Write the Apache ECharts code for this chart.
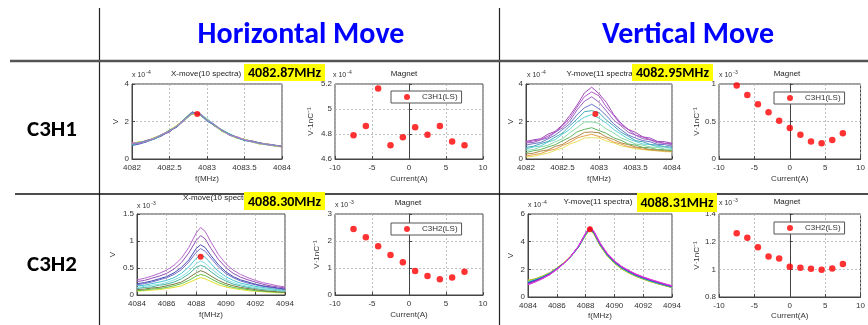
<!DOCTYPE html>
<html>
<head>
<meta charset="utf-8">
<script src="https://cdn.jsdelivr.net/npm/echarts@6/dist/echarts.min.js"></script>
<style>
  html, body { margin: 0; padding: 0; background: #fff; }
  #chart { width: 868px; height: 325px; }
</style>
</head>
<body>
<div id="chart"></div>
<script>
// column / row headings
var colTitles = ['Horizontal Move', 'Vertical Move'];
var rowTitles = ['C3H1', 'C3H2'];
var freqTags = ['4082.87MHz', '4082.95MHz', '4088.30MHz', '4088.31MHz'];
var panelTitles = ['X-move(10 spectra)', 'Magnet', 'Y-move(11 spectra)', 'Magnet',
                   'X-move(10 spectra)', 'Magnet', 'Y-move(11 spectra)', 'Magnet'];
var exponents = ['-4', '-4', '-4', '-3', '-3', '-3', '-4', '-3'];

// frequency axes (MHz)
var freqRow1 = [4082, 4082.1, 4082.2, 4082.3, 4082.4, 4082.5, 4082.6, 4082.7, 4082.8, 4082.9, 4083,
                4083.1, 4083.2, 4083.3, 4083.4, 4083.5, 4083.6, 4083.7, 4083.8, 4083.9, 4084];
var freqRow2 = [4084, 4084.5, 4085, 4085.5, 4086, 4086.5, 4087, 4087.5, 4088, 4088.3, 4088.6,
                4089, 4089.5, 4090, 4090.5, 4091, 4091.5, 4092, 4092.5, 4093, 4093.5, 4094];

// C3H1 horizontal move, 10 spectra (x1e-4 V)
var spectraA = [
    [0.85,0.92,0.98,1.15,1.30,1.55,1.80,2.12,2.40,2.38,2.05,1.78,1.55,1.28,1.12,1.05,0.92,0.80,0.76,0.70,0.62],
    [0.78,0.85,1.00,1.08,1.32,1.48,1.78,2.08,2.45,2.36,2.12,1.82,1.48,1.32,1.18,1.00,0.98,0.84,0.82,0.74,0.70],
    [0.82,0.90,0.93,1.12,1.25,1.52,1.72,2.15,2.50,2.42,2.08,1.76,1.55,1.30,1.10,1.04,0.90,0.88,0.78,0.72,0.66],
    [0.75,0.86,0.96,1.06,1.30,1.46,1.76,2.05,2.42,2.44,2.15,1.84,1.50,1.34,1.16,0.98,0.96,0.82,0.80,0.70,0.68],
    [0.72,0.80,0.92,1.08,1.24,1.50,1.70,2.10,2.46,2.40,2.02,1.80,1.52,1.28,1.14,1.02,0.94,0.86,0.78,0.74,0.65],
    [0.80,0.88,0.97,1.12,1.28,1.44,1.78,2.12,2.52,2.36,2.10,1.76,1.50,1.32,1.15,1.00,0.92,0.84,0.80,0.70,0.70],
    [0.86,0.84,1.00,1.10,1.26,1.52,1.74,2.06,2.44,2.42,2.06,1.82,1.54,1.26,1.18,1.04,0.96,0.86,0.76,0.72,0.64],
    [0.80,0.90,0.94,1.14,1.30,1.50,1.80,2.08,2.38,2.44,2.12,1.78,1.46,1.30,1.12,1.06,0.90,0.80,0.82,0.68,0.68],
    [0.76,0.88,0.98,1.06,1.28,1.54,1.72,2.14,2.48,2.38,2.04,1.80,1.56,1.34,1.14,0.98,0.94,0.86,0.76,0.74,0.66],
    [0.82,0.86,0.95,1.10,1.32,1.48,1.76,2.10,2.42,2.46,2.08,1.84,1.52,1.28,1.16,1.02,0.92,0.82,0.80,0.72,0.68]
];
var colorsA = ['#e6d84a', '#e39a5a', '#6cc46c', '#5ccad8', '#4a5cc4', '#8a52b4', '#c858c8', '#a8da6a', '#48aaa4', '#a47ad4'];

// C3H1 vertical move, 11 spectra (x1e-4 V)
var spectraC = [
    [0.11,0.14,0.23,0.31,0.46,0.58,0.80,0.93,1.12,1.14,1.12,0.96,0.86,0.70,0.63,0.54,0.51,0.45,0.44,0.39,0.38],
    [0.15,0.23,0.29,0.44,0.53,0.72,0.88,1.12,1.23,1.32,1.20,1.10,0.90,0.80,0.66,0.61,0.52,0.49,0.44,0.43,0.40],
    [0.26,0.31,0.42,0.48,0.67,0.78,1.02,1.20,1.42,1.44,1.40,1.18,1.04,0.86,0.77,0.64,0.60,0.50,0.49,0.44,0.43],
    [0.34,0.44,0.50,0.64,0.76,0.97,1.16,1.45,1.58,1.67,1.52,1.37,1.13,1.00,0.80,0.74,0.62,0.60,0.50,0.50,0.44],
    [0.46,0.50,0.64,0.73,0.92,1.08,1.40,1.67,1.97,1.98,1.90,1.60,1.40,1.13,0.97,0.80,0.74,0.64,0.62,0.53,0.51],
    [0.54,0.64,0.70,0.90,1.03,1.32,1.58,1.97,2.23,2.37,2.18,1.92,1.58,1.32,1.08,0.94,0.80,0.77,0.66,0.64,0.56],
    [0.62,0.68,0.82,0.93,1.17,1.38,1.77,2.13,2.52,2.58,2.47,2.08,1.77,1.43,1.22,0.98,0.92,0.78,0.74,0.66,0.63],
    [0.74,0.82,0.88,1.07,1.28,1.57,1.88,2.37,2.73,2.92,2.68,2.32,1.88,1.57,1.28,1.12,0.98,0.92,0.78,0.77,0.68],
    [0.86,0.88,1.02,1.13,1.42,1.67,2.03,2.62,3.08,3.32,3.03,2.57,2.08,1.77,1.43,1.27,1.08,1.02,0.86,0.84,0.76],
    [0.88,0.97,1.03,1.22,1.43,1.77,2.18,2.77,3.32,3.58,3.37,2.78,2.32,1.83,1.57,1.28,1.17,1.03,0.92,0.83,0.82],
    [0.94,1.02,1.08,1.32,1.48,1.82,2.32,2.88,3.52,3.83,3.48,3.02,2.38,1.92,1.58,1.42,1.18,1.12,0.94,0.92,0.84]
];
var colorsC = ['#e8e060', '#e6a24c', '#b08a48', '#62b462', '#8ad8a8', '#5cd2d8', '#48a8b8', '#6a78c6', '#9a62c0', '#b058c8', '#a24ab8'];

// C3H2 horizontal move, 10 spectra (x1e-3 V)
var spectraE = [
    [0.07,0.08,0.09,0.10,0.12,0.14,0.17,0.23,0.29,0.32,0.30,0.25,0.19,0.15,0.12,0.10,0.08,0.07,0.06,0.05,0.04,0.04],
    [0.08,0.09,0.11,0.12,0.14,0.17,0.21,0.27,0.35,0.38,0.36,0.30,0.23,0.18,0.14,0.12,0.10,0.08,0.07,0.06,0.05,0.05],
    [0.10,0.11,0.13,0.14,0.17,0.20,0.24,0.32,0.41,0.45,0.42,0.35,0.27,0.21,0.17,0.14,0.12,0.10,0.08,0.07,0.06,0.05],
    [0.12,0.14,0.15,0.18,0.20,0.24,0.30,0.39,0.51,0.55,0.52,0.43,0.33,0.26,0.20,0.17,0.14,0.12,0.10,0.09,0.08,0.07],
    [0.14,0.16,0.18,0.20,0.23,0.28,0.34,0.44,0.58,0.63,0.59,0.49,0.38,0.29,0.23,0.19,0.16,0.14,0.12,0.10,0.09,0.08],
    [0.17,0.18,0.21,0.24,0.27,0.32,0.40,0.52,0.68,0.74,0.70,0.58,0.44,0.34,0.27,0.22,0.19,0.16,0.14,0.12,0.10,0.09],
    [0.19,0.21,0.24,0.28,0.32,0.38,0.47,0.61,0.79,0.86,0.81,0.68,0.52,0.40,0.32,0.26,0.22,0.19,0.16,0.14,0.12,0.10],
    [0.21,0.23,0.26,0.30,0.34,0.41,0.51,0.65,0.86,0.93,0.88,0.73,0.56,0.43,0.34,0.28,0.24,0.20,0.17,0.15,0.13,0.11],
    [0.25,0.27,0.31,0.35,0.40,0.48,0.60,0.78,1.01,1.10,1.04,0.86,0.66,0.51,0.40,0.33,0.28,0.24,0.20,0.17,0.15,0.13],
    [0.28,0.31,0.35,0.40,0.46,0.55,0.68,0.88,1.15,1.25,1.18,0.98,0.75,0.58,0.46,0.38,0.32,0.27,0.23,0.20,0.17,0.15]
];
var colorsE = ['#e2e030', '#62c448', '#7a7842', '#48b4a0', '#88e0e0', '#48c4d4', '#7474c8', '#4a4ab4', '#9450b4', '#b868cc'];

// C3H2 vertical move, 11 spectra (x1e-4 V)
var spectraG = [
    [1.22,1.32,1.52,1.76,2.10,2.50,3.00,3.62,4.45,4.85,4.50,3.70,2.95,2.42,2.02,1.72,1.48,1.28,1.10,0.95,0.82,0.68],
    [1.18,1.30,1.50,1.74,2.08,2.48,2.98,3.60,4.48,4.90,4.52,3.72,2.98,2.44,2.05,1.74,1.50,1.30,1.12,0.96,0.82,0.68],
    [1.12,1.28,1.46,1.72,2.06,2.46,2.96,3.62,4.50,4.92,4.55,3.76,3.02,2.48,2.08,1.78,1.52,1.32,1.14,0.98,0.84,0.70],
    [1.15,1.26,1.48,1.70,2.04,2.44,2.94,3.58,4.46,4.94,4.58,3.78,3.00,2.46,2.06,1.76,1.54,1.34,1.15,0.99,0.85,0.70],
    [1.08,1.24,1.44,1.70,2.05,2.45,2.95,3.60,4.52,4.96,4.60,3.80,3.04,2.50,2.10,1.80,1.55,1.35,1.16,1.00,0.86,0.72],
    [1.05,1.22,1.42,1.68,2.04,2.44,2.95,3.62,4.54,4.98,4.62,3.82,3.06,2.52,2.12,1.82,1.57,1.37,1.18,1.02,0.88,0.74],
    [1.02,1.20,1.40,1.66,2.02,2.44,2.96,3.64,4.56,5.00,4.64,3.84,3.08,2.54,2.14,1.84,1.58,1.38,1.20,1.04,0.89,0.75],
    [0.98,1.16,1.38,1.65,2.02,2.45,2.97,3.65,4.58,5.02,4.66,3.86,3.10,2.56,2.16,1.86,1.60,1.40,1.22,1.06,0.90,0.76],
    [0.95,1.14,1.36,1.64,2.00,2.44,2.98,3.66,4.60,5.05,4.68,3.88,3.12,2.58,2.18,1.88,1.62,1.42,1.24,1.08,0.92,0.78],
    [0.90,1.10,1.34,1.62,2.00,2.44,2.98,3.68,4.62,5.08,4.70,3.90,3.14,2.60,2.20,1.90,1.64,1.44,1.26,1.10,0.94,0.80],
    [0.88,1.08,1.32,1.60,1.98,2.42,2.96,3.66,4.60,5.06,4.72,3.92,3.16,2.62,2.22,1.92,1.66,1.46,1.28,1.12,0.96,0.82]
];
var colorsG = ['#d8d830', '#e08a30', '#40d040', '#88e040', '#30d0e0', '#20a0c0', '#2a48d0', '#6040c0', '#9030c0', '#d020d0', '#e040e0'];

// fitted resonance (red dot on each spectrum panel)
var peakA = [4082.87, 2.4];
var peakC = [4082.95, 2.4];
var peakE = [4088.30, 0.71];
var peakG = [4088.30, 4.9];

// magnet scans: current (A) vs V/nC
var currentH = [-7.5, -5.83, -4.17, -2.5, -0.83, 0.83, 2.5, 4.17, 5.83, 7.5];
var currentV = [-7.5, -6, -4.5, -3, -1.5, 0, 1.5, 3, 4.5, 6, 7.5];
var magnetB = [4.79, 4.865, 5.165, 4.71, 4.775, 4.855, 4.795, 4.865, 4.74, 4.71];        // x1e-4
var magnetD = [0.98, 0.855, 0.73, 0.625, 0.51, 0.415, 0.325, 0.235, 0.21, 0.255, 0.345]; // x1e-3
var magnetF = [2.44, 2.14, 1.81, 1.48, 1.21, 0.89, 0.70, 0.58, 0.65, 0.86];              // x1e-3
var magnetH = [1.261, 1.229, 1.159, 1.093, 1.079, 1.018, 1.011, 1.004, 0.997, 1.006, 1.038]; // x1e-3
var legendNames = ['C3H1(LS)', 'C3H2(LS)'];

var tickFont = '"Liberation Sans", Arial, sans-serif';
var headFont = 'Carlito, "Liberation Sans Narrow", Lato, sans-serif';

function pairs(xs, ys) {
    return xs.map(function (x, i) { return [x, ys[i]]; });
}
function fmt(v) {
    return String(+v.toFixed(2));
}

// plot boxes [left, top, width, height]
var boxes = [
    [132, 84, 150, 75], [335, 84, 148, 75], [526, 84, 146, 75], [719, 84, 146, 75],
    [137, 214, 148, 81], [335, 214, 148, 81], [528, 214, 144, 83], [719, 214, 145, 83]
];
var grids = boxes.map(function (b) {
    return {
        left: b[0], top: b[1], width: b[2], height: b[3],
        show: true, borderColor: '#444', borderWidth: 1, backgroundColor: '#fff'
    };
});

function axis(g, min, max, iv, name, gap, isY) {
    var a = {
        type: 'value', gridIndex: g, min: min, max: max, interval: iv,
        name: name, nameLocation: 'middle', nameGap: gap,
        nameTextStyle: { fontSize: 8, color: '#333', fontFamily: tickFont },
        axisLine: { show: true, lineStyle: { color: '#444', width: 1 } },
        axisTick: { show: true, inside: true, length: 3, lineStyle: { color: '#444' } },
        axisLabel: { fontSize: 8, color: '#333', margin: isY ? 3 : 5, fontFamily: tickFont, formatter: fmt },
        splitLine: { show: true, lineStyle: { type: [2, 2], color: '#b0b0b0', width: 0.8 } }
    };
    if (isY) a.nameRotate = 90;
    return a;
}

var xAxis = [
    axis(0, 4082, 4084, 0.5, 'f(MHz)', 16),
    axis(1, -10, 10, 5, 'Current(A)', 16),
    axis(2, 4082, 4084, 0.5, 'f(MHz)', 16),
    axis(3, -10, 10, 5, 'Current(A)', 16),
    axis(4, 4084, 4094, 2, 'f(MHz)', 16),
    axis(5, -10, 10, 5, 'Current(A)', 16),
    axis(6, 4084, 4094, 2, 'f(MHz)', 15),
    axis(7, -10, 10, 5, 'Current(A)', 15)
];
var yAxis = [
    axis(0, 0, 4, 2, 'V', 12, true),
    axis(1, 4.6, 5.2, 0.2, 'V·1nC⁻¹', 20, true),
    axis(2, 0, 4, 2, 'V', 10, true),
    axis(3, 0, 1, 0.5, 'V·1nC⁻¹', 18, true),
    axis(4, 0, 1.5, 0.5, 'V', 20, true),
    axis(5, 0, 3, 1, 'V·1nC⁻¹', 14, true),
    axis(6, 0, 6, 2, 'V', 13, true),
    axis(7, 0.8, 1.4, 0.2, 'V·1nC⁻¹', 18, true)
];

var series = [];
function addSpectra(g, freq, curves, colors, peak) {
    curves.forEach(function (c, i) {
        series.push({
            type: 'line', xAxisIndex: g, yAxisIndex: g, data: pairs(freq, c),
            showSymbol: false, silent: true,
            lineStyle: { color: colors[i], width: 1 }
        });
    });
    series.push({
        type: 'scatter', xAxisIndex: g, yAxisIndex: g, data: [peak],
        symbolSize: 6, itemStyle: { color: '#ff0000' }, z: 5
    });
}
function addMagnet(g, name, cur, vals) {
    series.push({
        name: name, type: 'scatter', xAxisIndex: g, yAxisIndex: g, data: pairs(cur, vals),
        symbolSize: 6.5, itemStyle: { color: '#ff0000' }
    });
}
addSpectra(0, freqRow1, spectraA, colorsA, peakA);
addMagnet(1, legendNames[0], currentH, magnetB);
addSpectra(2, freqRow1, spectraC, colorsC, peakC);
addMagnet(3, legendNames[0], currentV, magnetD);
addSpectra(4, freqRow2, spectraE, colorsE, peakE);
addMagnet(5, legendNames[1], currentH, magnetF);
addSpectra(6, freqRow2, spectraG, colorsG, peakG);
addMagnet(7, legendNames[1], currentV, magnetH);

function legendAt(name, left, top) {
    return {
        data: [name], left: left, top: top, icon: 'circle',
        itemWidth: 6, itemHeight: 6, padding: [2, 4, 2, 13],
        borderColor: '#555', borderWidth: 1, backgroundColor: '#fff',
        selectedMode: false,
        textStyle: { fontSize: 8, color: '#333', fontFamily: tickFont, padding: [0, 0, 0, 7] }
    };
}
var legend = [
    legendAt(legendNames[0], 391, 91),
    legendAt(legendNames[0], 774, 92),
    legendAt(legendNames[1], 391, 223),
    legendAt(legendNames[1], 774, 222)
];

// text / table drawing
var graphic = [];
function line(x1, y1, x2, y2, w, c) {
    graphic.push({ type: 'line', shape: { x1: x1, y1: y1, x2: x2, y2: y2 }, style: { stroke: c, lineWidth: w }, z: 10 });
}
function text(t, x, y, font, fill, align) {
    graphic.push({
        type: 'text', z: 11,
        style: { text: t, x: x, y: y, font: font, fill: fill, align: align || 'center', verticalAlign: 'middle' }
    });
}
line(99.5, 8, 99.5, 325, 1.2, '#222');
line(499.5, 8, 499.5, 325, 1.2, '#222');
line(10, 61, 868, 61, 2.5, '#555');
line(15, 194, 868, 194, 1.5, '#111');

text(colTitles[0], 301, 35, 'bold 30px ' + headFont, '#0000ff');
text(colTitles[1], 688, 35, 'bold 30px ' + headFont, '#0000ff');
text(rowTitles[0], 52, 130, 'bold 23px ' + headFont, '#000');
text(rowTitles[1], 52, 265, 'bold 23px ' + headFont, '#000');

// panel titles
var titlePos = [[206, 74], [404, 74], [601, 74], [787, 74], [218, 198], [408, 203], [598, 202], [787, 202]];
panelTitles.forEach(function (t, i) {
    text(t, titlePos[i][0], titlePos[i][1], '8px ' + tickFont, '#222');
});
// axis multipliers
var expPos = [[132, 75], [333, 75], [527, 75], [719, 75], [137, 206], [335, 205], [528, 205], [719, 203]];
exponents.forEach(function (e, i) {
    graphic.push({
        type: 'text', z: 11,
        style: {
            text: '{a|x 10}{b|' + e + '}', x: expPos[i][0], y: expPos[i][1], align: 'left', verticalAlign: 'middle',
            rich: {
                a: { fontSize: 7, fontFamily: tickFont, fill: '#333', color: '#333' },
                b: { fontSize: 5, fontFamily: tickFont, fill: '#333', color: '#333', padding: [0, 0, 5, 1] }
            }
        }
    });
});
// highlighted centre frequencies
var tagBox = [[244, 64, 81, 17], [632, 64, 81, 17], [244, 192, 81, 18], [637, 193, 80, 19]];
freqTags.forEach(function (t, i) {
    var b = tagBox[i];
    graphic.push({ type: 'rect', z: 12, shape: { x: b[0], y: b[1], width: b[2], height: b[3] }, style: { fill: '#ffff00' } });
    graphic.push({
        type: 'text', z: 13,
        style: { text: t, x: b[0] + b[2] / 2, y: b[1] + b[3] / 2 + 1, font: 'bold 14px ' + headFont, fill: '#000', align: 'center', verticalAlign: 'middle' }
    });
});

var option = {
    animation: false,
    backgroundColor: '#fff',
    grid: grids,
    xAxis: xAxis,
    yAxis: yAxis,
    legend: legend,
    series: series,
    graphic: graphic
};
var myChart = echarts.init(document.getElementById('chart'));
myChart.setOption(option);
</script>
</body>
</html>
